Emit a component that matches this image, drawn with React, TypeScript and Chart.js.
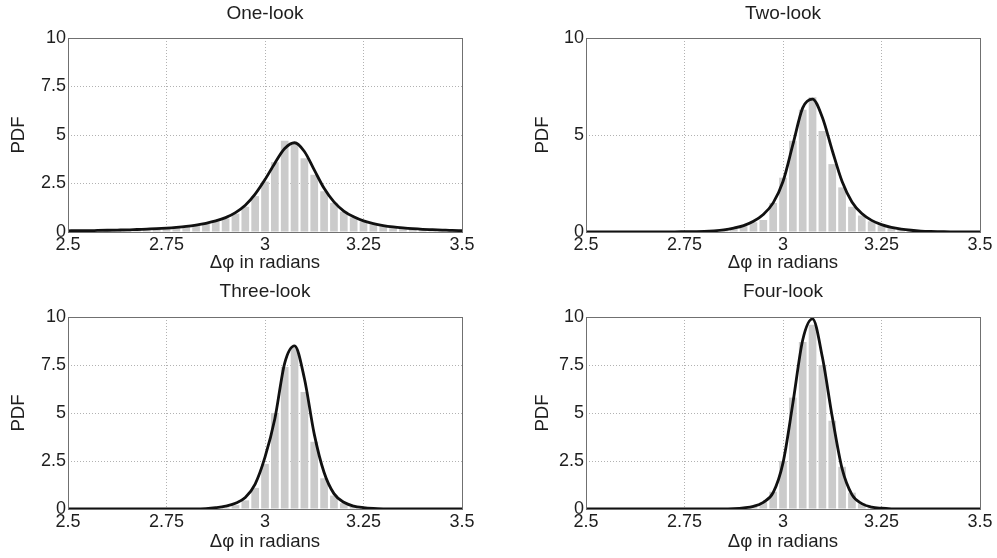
import React, { useEffect, useRef } from "react";
import { Chart, registerables } from "chart.js";

Chart.register(...registerables);

// ---------- DATA ----------
const binCenters = [
  2.5, 2.525, 2.55, 2.575, 2.6, 2.625, 2.65, 2.675, 2.7, 2.725, 2.75,
  2.775, 2.8, 2.825, 2.85, 2.875, 2.9, 2.925, 2.95, 2.975, 3.0,
  3.025, 3.05, 3.075, 3.1, 3.125, 3.15, 3.175, 3.2, 3.225, 3.25,
  3.275, 3.3, 3.325, 3.35, 3.375, 3.4, 3.425, 3.45, 3.475, 3.5,
];

const oneLookBars = [
  0.05, 0.05, 0.06, 0.07, 0.08, 0.09, 0.1, 0.11, 0.13, 0.15, 0.18,
  0.22, 0.27, 0.33, 0.42, 0.55, 0.7, 0.95, 1.3, 1.85,
  2.6, 3.6, 4.7, 4.6, 3.8, 2.95, 2.1, 1.5, 1.05, 0.75,
  0.55, 0.4, 0.3, 0.24, 0.19, 0.15, 0.12, 0.1, 0.08, 0.07, 0.06,
];
const oneLookCurve = [
  0.06, 0.07, 0.07, 0.08, 0.09, 0.1, 0.11, 0.13, 0.15, 0.17, 0.2,
  0.24, 0.29, 0.36, 0.45, 0.57, 0.74, 1.0, 1.38, 1.95,
  2.7, 3.55, 4.3, 4.6, 4.15, 3.2, 2.25, 1.55, 1.08, 0.78,
  0.57, 0.43, 0.33, 0.26, 0.21, 0.17, 0.14, 0.12, 0.1, 0.08, 0.07,
];

const twoLookBars = [
  0, 0, 0, 0, 0, 0, 0, 0, 0, 0, 0,
  0, 0, 0.04, 0.09, 0.17, 0.3, 0.5, 0.62, 1.5,
  2.8, 4.7, 6.3, 6.95, 5.2, 3.5, 2.3, 1.3, 0.85, 0.55,
  0.35, 0.22, 0.13, 0.08, 0.04, 0.02, 0, 0, 0, 0, 0,
];
const twoLookCurve = [
  0, 0, 0, 0, 0, 0.005, 0.005, 0.01, 0.01, 0.01, 0.015,
  0.02, 0.03, 0.06, 0.11, 0.2, 0.33, 0.55, 0.9, 1.5,
  2.6, 4.5, 6.4, 6.85, 5.9, 4.2, 2.6, 1.55, 0.95, 0.6,
  0.38, 0.24, 0.15, 0.09, 0.05, 0.03, 0.02, 0.01, 0.01, 0.005, 0.005,
];

const threeLookBars = [
  0, 0, 0, 0, 0, 0, 0, 0, 0, 0, 0,
  0, 0, 0, 0, 0, 0.08, 0.2, 0.45, 1.1,
  2.35, 5.0, 7.4, 8.4, 6.1, 3.5, 1.6, 0.7, 0.3, 0.12,
  0.05, 0, 0, 0, 0, 0, 0, 0, 0, 0, 0,
];
const threeLookCurve = [
  0, 0, 0, 0, 0, 0, 0, 0, 0, 0, 0,
  0, 0, 0, 0.02, 0.07, 0.15, 0.3, 0.6, 1.3,
  2.7, 4.7, 7.6, 8.5, 6.8, 3.9, 1.9, 0.8, 0.35, 0.15,
  0.07, 0.03, 0.01, 0, 0, 0, 0, 0, 0, 0, 0,
];

const fourLookBars = [
  0, 0, 0, 0, 0, 0, 0, 0, 0, 0, 0,
  0, 0, 0, 0, 0, 0.05, 0.12, 0.35, 0.9,
  2.5, 5.8, 8.7, 9.6, 7.5, 4.6, 2.2, 0.85, 0.3, 0.1,
  0.03, 0, 0, 0, 0, 0, 0, 0, 0, 0, 0,
];
const fourLookCurve = [
  0, 0, 0, 0, 0, 0, 0, 0, 0, 0, 0,
  0, 0, 0, 0, 0.02, 0.06, 0.14, 0.35, 0.85,
  2.4, 5.5, 8.8, 9.9, 7.9, 4.8, 2.1, 0.75, 0.28, 0.1,
  0.04, 0.01, 0, 0, 0, 0, 0, 0, 0, 0, 0,
];

const xTickValues = [2.5, 2.75, 3, 3.25, 3.5];
const yTicksQuarter = [0, 2.5, 5, 7.5, 10];
const yTicksHalf = [0, 5, 10];
const panelTitles = ["One-look", "Two-look", "Three-look", "Four-look"];
const xAxisLabel = "Δφ in radians";
const yAxisLabel = "PDF";

// ---------- STYLE ----------
const FONT = "'Liberation Sans', Arial, Helvetica, sans-serif";
const TEXT = "#1e1e1e";
const BAR = "#cbcbcb";
const GRID = "rgba(0,0,0,0.3)";

type Layout = {
  left: number;
  top: number;
  width: number;
  height: number;
  padRight: number;
  xAxisH: number;
  yAxisW: number;
  titlePadTop: number;
  titlePadBottom: number;
  yTitlePad: number;
  xTitlePad: number;
};

const layouts: Layout[] = [
  { left: 0, top: 0, width: 498, height: 279, padRight: 36, xAxisH: 47, yAxisW: 68, titlePadTop: 2.6, titlePadBottom: 12.6, yTitlePad: 7.9, xTitlePad: 4.6 },
  { left: 518, top: 0, width: 479, height: 279, padRight: 17, xAxisH: 47, yAxisW: 68, titlePadTop: 2.6, titlePadBottom: 12.6, yTitlePad: 13.9, xTitlePad: 4.6 },
  { left: 0, top: 279, width: 498, height: 279, padRight: 36, xAxisH: 49, yAxisW: 68, titlePadTop: 1.6, titlePadBottom: 13.6, yTitlePad: 7.9, xTitlePad: 5.2 },
  { left: 518, top: 279, width: 479, height: 279, padRight: 17, xAxisH: 49, yAxisW: 68, titlePadTop: 1.6, titlePadBottom: 13.6, yTitlePad: 13.9, xTitlePad: 5.2 },
];

const boxPlugin = {
  id: "axesBox",
  afterDraw(chart: any) {
    const { ctx, chartArea: a } = chart;
    ctx.save();
    ctx.strokeStyle = "#707070";
    ctx.lineWidth = 1;
    ctx.strokeRect(
      Math.round(a.left) + 0.5,
      Math.round(a.top) + 0.5,
      Math.round(a.right - a.left),
      Math.round(a.bottom - a.top)
    );
    ctx.restore();
  },
};

function Panel(props: {
  title: string;
  bars: number[];
  curve: number[];
  yTicks: number[];
  layout: Layout;
}) {
  const ref = useRef<HTMLCanvasElement>(null);
  const { title, bars, curve, yTicks, layout } = props;

  useEffect(() => {
    const canvas = ref.current;
    if (!canvas) return;
    const tickFont = { family: FONT, size: 18, lineHeight: 1.2 };
    const labelFont = { family: FONT, size: 18.6, lineHeight: 1.2 };
    const chart = new Chart(canvas, {
      type: "bar",
      data: {
        datasets: [
          {
            type: "line",
            data: binCenters.map((x, i) => ({ x, y: curve[i] })),
            borderColor: "#111111",
            borderWidth: 2.8,
            pointRadius: 0,
            cubicInterpolationMode: "monotone",
            fill: false,
            order: 0,
          } as any,
          {
            type: "bar",
            data: binCenters.map((x, i) => ({ x, y: bars[i] })),
            backgroundColor: BAR,
            borderWidth: 0,
            barPercentage: 0.78,
            categoryPercentage: 1,
            order: 1,
          } as any,
        ],
      },
      options: {
        responsive: false,
        animation: false,
        events: [],
        layout: { padding: { left: 0, right: layout.padRight, top: 0, bottom: 0 } },
        plugins: {
          legend: { display: false },
          tooltip: { enabled: false },
          title: {
            display: true,
            text: title,
            fullSize: false,
            color: TEXT,
            font: { family: FONT, size: 19, weight: "normal", lineHeight: 1.2 },
            padding: { top: layout.titlePadTop, bottom: layout.titlePadBottom },
          },
        },
        scales: {
          x: {
            type: "linear",
            min: 2.5,
            max: 3.5,
            offset: false,
            afterBuildTicks: (s: any) => {
              s.ticks = xTickValues.map((v) => ({ value: v }));
            },
            afterFit: (s: any) => {
              s.height = layout.xAxisH;
            },
            grid: { color: GRID, lineWidth: 1, drawTicks: false, offset: false },
            border: { display: false, dash: [1, 2] },
            ticks: {
              color: TEXT,
              font: tickFont,
              padding: 2,
              maxRotation: 0,
              autoSkip: false,
              callback: (v: any) => String(v),
            },
            title: {
              display: true,
              text: xAxisLabel,
              color: TEXT,
              font: labelFont,
              padding: { top: 0, bottom: layout.xTitlePad },
            },
          },
          y: {
            type: "linear",
            min: 0,
            max: 10,
            afterBuildTicks: (s: any) => {
              s.ticks = yTicks.map((v) => ({ value: v }));
            },
            afterFit: (s: any) => {
              s.width = layout.yAxisW;
            },
            grid: { color: GRID, lineWidth: 1, drawTicks: false },
            border: { display: false, dash: [1, 2] },
            ticks: {
              color: TEXT,
              font: tickFont,
              padding: 2,
              autoSkip: false,
              callback: (v: any) => String(v),
            },
            title: {
              display: true,
              text: yAxisLabel,
              color: TEXT,
              font: labelFont,
              padding: { top: layout.yTitlePad, bottom: 0 },
            },
          },
        },
      } as any,
      plugins: [boxPlugin],
    });
    return () => chart.destroy();
  }, []);

  return (
    <canvas
      ref={ref}
      width={layout.width}
      height={layout.height}
      style={{
        position: "absolute",
        left: layout.left,
        top: layout.top,
        width: layout.width,
        height: layout.height,
        display: "block",
      }}
    />
  );
}

export default function App() {
  return (
    <div
      style={{
        position: "absolute",
        left: 0,
        top: 0,
        width: 997,
        height: 558,
        background: "#ffffff",
        overflow: "hidden",
      }}
    >
      <Panel title={panelTitles[0]} bars={oneLookBars} curve={oneLookCurve} yTicks={yTicksQuarter} layout={layouts[0]} />
      <Panel title={panelTitles[1]} bars={twoLookBars} curve={twoLookCurve} yTicks={yTicksHalf} layout={layouts[1]} />
      <Panel title={panelTitles[2]} bars={threeLookBars} curve={threeLookCurve} yTicks={yTicksQuarter} layout={layouts[2]} />
      <Panel title={panelTitles[3]} bars={fourLookBars} curve={fourLookCurve} yTicks={yTicksQuarter} layout={layouts[3]} />
    </div>
  );
}
